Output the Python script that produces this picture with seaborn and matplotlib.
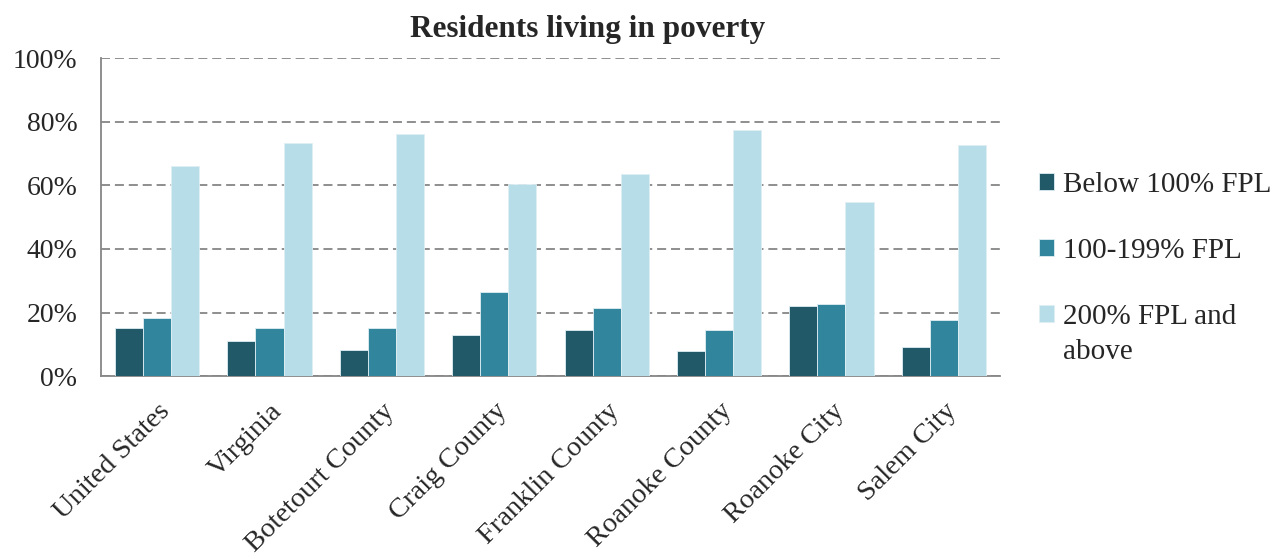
import matplotlib.pyplot as plt
import seaborn as sns
import pandas as pd
import numpy as np
from matplotlib.ticker import FixedLocator, PercentFormatter
from matplotlib.text import Annotation

# Values (percent of residents)
places = ['United States', 'Virginia', 'Botetourt County', 'Craig County',
          'Franklin County', 'Roanoke County', 'Roanoke City', 'Salem City']
series = ['Below 100% FPL', '100-199% FPL', '200% FPL and']
below_100 = [15.1, 11.2, 8.2, 12.8, 14.4, 7.9, 22.1, 9.3]
fpl_100_199 = [18.3, 15.0, 15.3, 26.5, 21.5, 14.6, 22.6, 17.8]
fpl_200_up = [66.2, 73.4, 76.3, 60.4, 63.7, 77.5, 54.9, 72.6]
colors = ['#215968', '#31859C', '#B7DEE8']

df = pd.DataFrame({
    'place': places * 3,
    'group': [series[0]] * 8 + [series[1]] * 8 + [series[2]] * 8,
    'value': below_100 + fpl_100_199 + fpl_200_up,
})

sns.set_style('white')
plt.rcParams['font.family'] = ['Liberation Serif', 'DejaVu Serif']

fig = plt.figure(figsize=(12.88, 5.59), dpi=100)
ax = fig.add_axes([0.0784, 0.327, 0.698, 0.569])

sns.barplot(data=df, x='place', y='value', hue='group', palette=colors,
            width=0.75, saturation=1, edgecolor='#dfeff4', linewidth=0.6,
            ax=ax, zorder=3)

gray = '#868686'
ax.set_ylim(0, 100)
ax.set_xlim(-0.5, len(places) - 0.5)
ax.yaxis.set_major_locator(FixedLocator([0, 20, 40, 60, 80, 100]))
ax.yaxis.set_major_formatter(PercentFormatter(decimals=0))
ax.yaxis.grid(True, color=gray, linestyle=(0, (5, 2.7)), linewidth=1.3, zorder=0)
ax.set_axisbelow(True)

for s in ['top', 'right']:
    ax.spines[s].set_visible(False)
for s in ['left', 'bottom']:
    ax.spines[s].set_color(gray)
    ax.spines[s].set_linewidth(1.3)

ax.tick_params(axis='y', length=6, color=gray, width=1.3, labelsize=20, pad=11)
ax.tick_params(axis='x', which='major', length=0, labelsize=20.5, pad=16)
ax.xaxis.set_minor_locator(FixedLocator(np.arange(-0.5, len(places), 1)))
ax.tick_params(axis='x', which='minor', length=6, color=gray, width=1.3)
ax.set_xticks(range(len(places)))
ax.set_xticklabels(places, rotation=45, ha='right', rotation_mode='anchor')

ax.set_xlabel('')
ax.set_ylabel('')
fig.text(0.4565, 0.948, 'Residents living in poverty', fontsize=22.5,
         fontweight='bold', ha='center', va='center')

leg = ax.legend(loc='upper left', bbox_to_anchor=(0.8067, 0.692),
                bbox_transform=fig.transFigure, frameon=False, fontsize=21,
                borderpad=0, borderaxespad=0, handlelength=0.52,
                handleheight=0.52, handletextpad=0.3, labelspacing=1.36)
# second line of the last legend label, Excel-style wrap
fig.add_artist(Annotation('above', xy=(0, 0), xycoords=leg.get_texts()[2],
                          xytext=(0, -6.5), textcoords='offset points',
                          ha='left', va='top', fontsize=21))

fig.savefig('out.png', dpi=100)
